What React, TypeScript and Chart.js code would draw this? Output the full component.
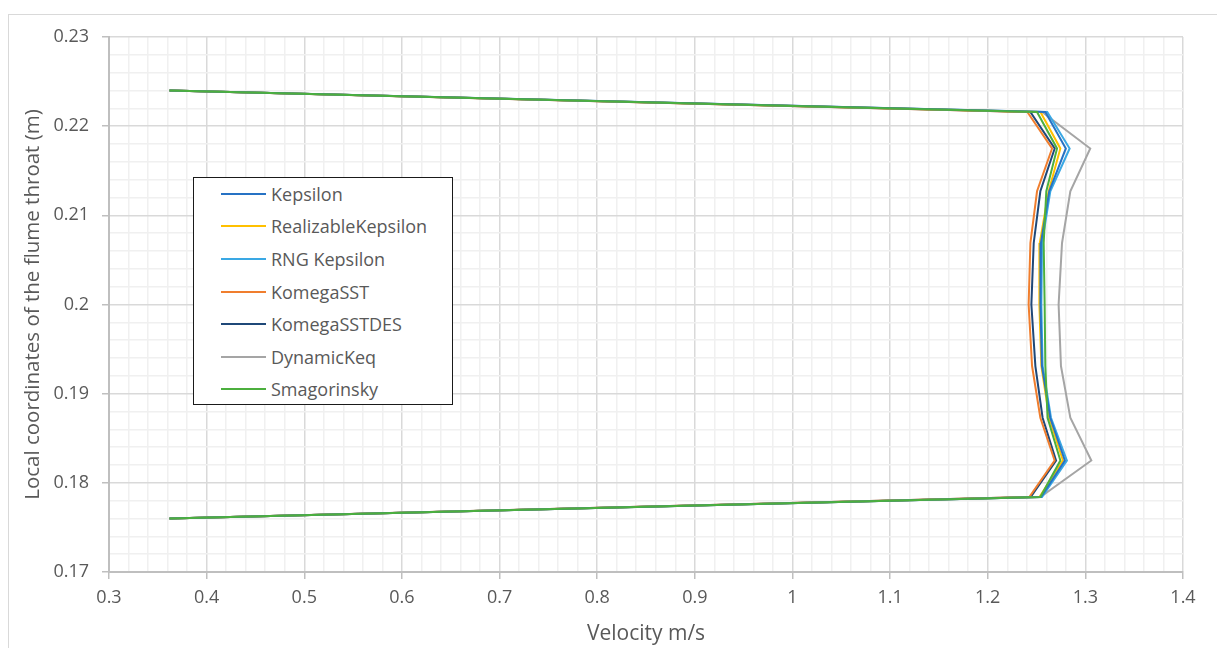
import React, { useEffect, useRef } from 'react';
import { Chart, registerables } from 'chart.js';

Chart.register(...registerables);

// ---- Data ----
const seriesNames = [
  'Kepsilon',
  'RealizableKepsilon',
  'RNG Kepsilon',
  'KomegaSST',
  'KomegaSSTDES',
  'DynamicKeq',
  'Smagorinsky',
];
const seriesColors = ['#2672C4', '#FFC000', '#3AA8E4', '#F07E2E', '#1F4878', '#A5A5A5', '#4CAF3E'];

// local coordinate (m) of each sample point
const yCoords = [0.224, 0.2216, 0.2175, 0.2127, 0.2069, 0.2, 0.1931, 0.1873, 0.1825, 0.1784, 0.176];

// velocity (m/s) at each sample point
const kepsilon = [0.362, 1.259, 1.28, 1.263, 1.2545, 1.254, 1.2555, 1.264, 1.279, 1.2545, 0.362];
const realizableKepsilon = [0.362, 1.254, 1.2744, 1.2624, 1.2533, 1.2529, 1.2549, 1.263, 1.277, 1.253, 0.362];
const rngKepsilon = [0.362, 1.261, 1.2839, 1.2641, 1.2556, 1.2549, 1.2562, 1.2648, 1.2811, 1.2556, 0.362];
const komegaSST = [0.362, 1.2406, 1.2659, 1.2505, 1.2437, 1.2419, 1.2454, 1.2539, 1.2685, 1.2426, 0.362];
const komegaSSTDES = [0.362, 1.2437, 1.2686, 1.2539, 1.2471, 1.2447, 1.2488, 1.2562, 1.27, 1.244, 0.362];
const dynamicKeq = [0.362, 1.2556, 1.305, 1.2846, 1.2761, 1.2726, 1.275, 1.2846, 1.3061, 1.254, 0.362];
const smagorinsky = [0.362, 1.2505, 1.271, 1.26, 1.2573, 1.2583, 1.259, 1.2613, 1.2744, 1.2539, 0.362];

const seriesValues = [kepsilon, realizableKepsilon, rngKepsilon, komegaSST, komegaSSTDES, dynamicKeq, smagorinsky];

const xMajorTicks = [0.3, 0.4, 0.5, 0.6, 0.7, 0.8, 0.9, 1, 1.1, 1.2, 1.3, 1.4];
const yMajorTicks = [0.17, 0.18, 0.19, 0.2, 0.21, 0.22, 0.23];
const MINOR_DIVISIONS = 5;

const xTitle = 'Velocity m/s';
const yTitle = 'Local coordinates of the flume throat (m)';

function buildTicks(majors: number[]) {
  const out: number[] = [];
  for (let i = 0; i < majors.length - 1; i++) {
    const a = majors[i];
    const b = majors[i + 1];
    for (let j = 0; j < MINOR_DIVISIONS; j++) {
      out.push(Math.round((a + ((b - a) * j) / MINOR_DIVISIONS) * 1e6) / 1e6);
    }
  }
  out.push(majors[majors.length - 1]);
  return out;
}

const FONT = "'Open Sans', 'Noto Sans', sans-serif";
const TEXT_COLOR = '#595959';

export default function App() {
  const ref = useRef<HTMLCanvasElement | null>(null);

  useEffect(() => {
    if (!ref.current) return;
    const xTicks = buildTicks(xMajorTicks);
    const yTicks = buildTicks(yMajorTicks);
    const isMajor = (i: number) => i % MINOR_DIVISIONS === 0;

    const datasets = seriesNames.map((name, si) => ({
      label: name,
      data: seriesValues[si].map((v, i) => ({ x: v, y: yCoords[i] })),
      borderColor: seriesColors[si],
      backgroundColor: seriesColors[si],
      borderWidth: 2,
      pointRadius: 0,
      fill: false,
      tension: 0,
      order: name === 'Smagorinsky' ? 0 : si + 1,
    }));

    const chart = new Chart(ref.current, {
      type: 'line',
      data: { datasets },
      options: {
        animation: false,
        responsive: false,
        maintainAspectRatio: false,
        layout: { padding: { top: 37, right: 34, left: 0, bottom: 0 } },
        plugins: { legend: { display: false }, tooltip: { enabled: false } },
        scales: {
          x: {
            type: 'linear',
            min: 0.3,
            max: 1.4,
            afterBuildTicks: (scale: any) => {
              scale.ticks = xTicks.map((v) => ({ value: v }));
            },
            afterFit: (scale: any) => {
              scale.height = 76;
            },
            ticks: {
              autoSkip: false,
              maxRotation: 0,
              padding: 8,
              color: TEXT_COLOR,
              font: { family: FONT, size: 18 },
              callback: (_v: any, i: number) => (isMajor(i) ? String(xTicks[i]) : ''),
            },
            grid: {
              color: (ctx: any) => (isMajor(ctx.index) ? '#D9D9D9' : '#F0F0F0'),
              lineWidth: 1.5,
              tickColor: (ctx: any) => (isMajor(ctx.index) ? '#BFBFBF' : 'rgba(0,0,0,0)'),
              tickLength: 7,
              drawTicks: true,
            },
            border: { color: '#BFBFBF', width: 2 },
            title: {
              display: true,
              text: xTitle,
              color: TEXT_COLOR,
              font: { family: FONT, size: 21 },
              padding: { top: 0, bottom: 1.4 },
            },
          },
          y: {
            type: 'linear',
            min: 0.17,
            max: 0.23,
            afterBuildTicks: (scale: any) => {
              scale.ticks = yTicks.map((v) => ({ value: v }));
            },
            afterFit: (scale: any) => {
              scale.width = 109;
            },
            ticks: {
              autoSkip: false,
              padding: 13,
              color: TEXT_COLOR,
              font: { family: FONT, size: 18 },
              callback: (_v: any, i: number) => (isMajor(i) ? String(yTicks[i]) : ''),
            },
            grid: {
              color: (ctx: any) => (isMajor(ctx.index) ? '#D9D9D9' : '#F0F0F0'),
              lineWidth: 1.5,
              tickColor: (ctx: any) => (isMajor(ctx.index) ? '#BFBFBF' : 'rgba(0,0,0,0)'),
              tickLength: 7,
              drawTicks: true,
            },
            border: { color: '#BFBFBF', width: 2 },
            title: {
              display: true,
              text: yTitle,
              color: TEXT_COLOR,
              font: { family: FONT, size: 20.5 },
              padding: { top: 20.7, bottom: 0 },
            },
          },
        },
      },
    } as any);
    return () => chart.destroy();
  }, []);

  return (
    <div
      style={{
        position: 'fixed',
        left: 0,
        top: 0,
        width: 1217,
        height: 648,
        overflow: 'hidden',
        background: '#fff',
      }}
    >
      <div
        style={{
          position: 'absolute',
          left: 8,
          top: 14,
          width: 1400,
          height: 800,
          border: '1.5px solid #D9D9D9',
        }}
      />
      <canvas
        ref={ref}
        width={1217}
        height={648}
        style={{ position: 'absolute', left: 0, top: 0, width: 1217, height: 648 }}
      />
      <div
        style={{
          position: 'absolute',
          left: 193,
          top: 177,
          width: 258,
          height: 226,
          border: '1.5px solid #1a1a1a',
          background: '#fff',
          fontFamily: FONT,
          fontSize: 18,
          color: TEXT_COLOR,
        }}
      >
        {seriesNames.map((name, i) => (
          <div
            key={name}
            style={{
              position: 'absolute',
              left: 0,
              top: 15.7 + i * 32.6 - 13,
              height: 26,
              display: 'flex',
              alignItems: 'center',
              whiteSpace: 'nowrap',
            }}
          >
            <span
              style={{
                display: 'inline-block',
                marginLeft: 27,
                width: 45,
                height: 2,
                background: seriesColors[i],
              }}
            />
            <span style={{ marginLeft: 5, lineHeight: '26px' }}>{name}</span>
          </div>
        ))}
      </div>
    </div>
  );
}
